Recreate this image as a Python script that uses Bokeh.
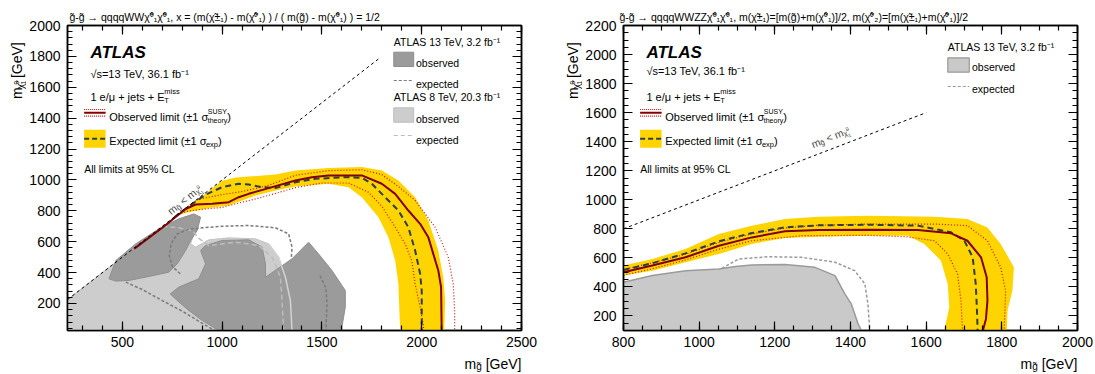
import math
import unicodedata
from bokeh.plotting import figure
from bokeh.models import Range1d, LinearAxis, SingleIntervalTicker, Label, CustomJSTickFormatter
from bokeh.layouts import row, column
from bokeh.embed import file_html
from bokeh.resources import INLINE

FONT = "Liberation Sans"

# ---------------- LEFT PANEL DATA (x = 1/2 grid) ----------------
L_TITLE = "g̃-g̃ → qqqqWWχ̃⁰₁χ̃⁰₁, x = (m(χ̃±₁) - m(χ̃⁰₁) ) / ( m(g̃) - m(χ̃⁰₁) ) = 1/2"
L_XR = (225, 2500)
L_YR = (25, 2000)
l_diag_x = [225, 1790]
l_diag_y = [225, 1790]

l_8tev_obs_x = [225, 225, 690, 750, 833, 858, 842, 867, 933, 1033, 1167, 1233, 1283, 1317, 1342, 1350]
l_8tev_obs_y = [25, 225, 690, 683, 677, 651, 586, 565, 612, 625, 619, 586, 500, 370, 219, 25]
l_8tev_edge_x = [1233, 1283, 1317, 1342, 1350]
l_8tev_edge_y = [586, 500, 370, 219, 25]
l_8tev_exp_x = [700, 780, 850, 885, 933, 1067, 1183, 1250, 1292, 1300, 1308]
l_8tev_exp_y = [700, 690, 672, 620, 575, 597, 575, 500, 370, 219, 25]

l_13a_x = [433, 467, 567, 683, 783, 858, 892, 875, 842, 817, 775, 733, 633, 533, 467]
l_13a_y = [360, 478, 586, 683, 748, 780, 759, 673, 608, 543, 457, 403, 375, 349, 345]
l_13b_x = [983, 900, 833, 775, 740, 783, 883, 917, 892, 917, 1000, 1133, 1200, 1217, 1217,
           1350, 1433, 1483, 1550, 1617, 1617, 1600, 1600]
l_13b_y = [25, 90, 155, 219, 262, 306, 360, 457, 543, 575, 608, 612, 565, 457, 370,
           489, 597, 521, 414, 284, 176, 47, 25]
l_13exp_a_x = [517, 600, 700, 800, 933, 965]
l_13exp_a_y = [338, 290, 219, 150, 46, 25]
l_13exp_b_x = [790, 750, 735, 745, 775, 830, 900, 1000, 1133, 1267, 1333, 1350, 1347]
l_13exp_b_y = [392, 440, 510, 590, 650, 680, 690, 700, 705, 690, 651, 565, 500]
l_13exp_c_x = [1490, 1520, 1525, 1520]
l_13exp_c_y = [380, 300, 200, 25]

l_band_up_x = [770, 900, 1000, 1067, 1133, 1267, 1367, 1533, 1700, 1800, 1883, 1967, 2033, 2083, 2108, 2117, 2113]
l_band_up_y = [770, 895, 995, 1015, 1022, 1035, 1061, 1078, 1083, 1061, 996, 888, 737, 543, 370, 219, 25]
l_band_lo_x = [1892, 1883, 1867, 1833, 1783, 1700, 1633, 1533, 1367, 1267, 1167, 1100, 1033, 933, 833]
l_band_lo_y = [25, 327, 478, 629, 759, 888, 953, 975, 957, 932, 899, 867, 834, 819, 791]

l_exp_x = [760, 833, 917, 1000, 1083, 1133, 1200, 1267, 1367, 1467, 1617, 1700, 1750, 1817, 1883, 1933, 1967, 1992, 2000, 2000]
l_exp_y = [758, 830, 905, 953, 975, 970, 953, 947, 985, 1007, 1018, 1014, 975, 888, 802, 694, 543, 392, 284, 25]
l_obs_x = [560, 700, 817, 867, 950, 1033, 1083, 1133, 1233, 1367, 1450, 1533, 1700, 1800, 1867, 1933, 1992, 2033, 2058, 2083, 2097, 2100]
l_obs_y = [555, 690, 812, 841, 845, 856, 888, 910, 947, 996, 1018, 1029, 1029, 975, 910, 802, 716, 629, 521, 414, 306, 25]
l_obs_up_x = [790, 880, 1000, 1100, 1233, 1367, 1533, 1700, 1800, 1880, 1967, 2067, 2133, 2158, 2165, 2165]
l_obs_up_y = [790, 875, 905, 925, 965, 1030, 1060, 1066, 1035, 960, 867, 694, 500, 327, 150, 25]
l_obs_lo_x = [780, 833, 917, 1000, 1067, 1133, 1233, 1367, 1500, 1633, 1733, 1800, 1867, 1917, 1950, 1967, 1992, 2008, 2010]
l_obs_lo_y = [780, 800, 812, 822, 845, 866, 900, 950, 980, 980, 920, 830, 694, 586, 478, 327, 176, 60, 25]

# ---------------- RIGHT PANEL DATA (WWZZ grid) ----------------
R_TITLE = "g̃-g̃ → qqqqWWZZχ̃⁰₁χ̃⁰₁, m(χ̃±₁)=[m(g̃)+m(χ̃⁰₁)]/2, m(χ̃⁰₂)=[m(χ̃±₁)+m(χ̃⁰₁)]/2"
R_XR = (800, 2000)
R_YR = (100, 2200)
r_diag_x = [800, 1600]
r_diag_y = [800, 1600]

r_32_obs_x = [800, 876, 964, 1052, 1095, 1139, 1227, 1306, 1359, 1385, 1402, 1420, 1429, 800]
r_32_obs_y = [432, 478, 512, 524, 540, 551, 554, 535, 478, 352, 283, 146, 100, 100]
r_32_exp_x = [1060, 1104, 1183, 1271, 1359, 1411, 1438, 1446, 1451]
r_32_exp_y = [528, 592, 608, 604, 570, 512, 421, 283, 100]

r_band_up_x = [800, 876, 964, 1052, 1139, 1227, 1315, 1446, 1622, 1709, 1762, 1797, 1832, 1828, 1815, 1813]
r_band_up_y = [547, 592, 661, 764, 821, 867, 883, 890, 883, 867, 810, 696, 535, 375, 237, 100]
r_band_lo_x = [1648, 1661, 1657, 1639, 1595, 1552, 1446, 1315, 1227, 1139, 1052, 964, 876, 800]
r_band_lo_y = [100, 260, 421, 581, 696, 753, 753, 746, 737, 696, 627, 570, 512, 478]

r_exp_x = [800, 876, 964, 1052, 1139, 1227, 1315, 1446, 1578, 1666, 1701, 1723, 1731, 1734, 1736]
r_exp_y = [517, 563, 631, 714, 771, 810, 824, 828, 822, 776, 718, 604, 421, 260, 100]
r_obs_x = [800, 876, 964, 1052, 1139, 1227, 1315, 1446, 1578, 1666, 1709, 1745, 1760, 1762, 1758, 1750]
r_obs_y = [501, 547, 604, 684, 741, 783, 792, 794, 792, 769, 718, 604, 466, 306, 180, 100]
r_obs_up_x = [800, 876, 964, 1052, 1139, 1227, 1315, 1446, 1622, 1709, 1762, 1797, 1810, 1808, 1806]
r_obs_up_y = [520, 566, 625, 706, 765, 805, 825, 833, 833, 822, 718, 535, 375, 230, 100]
r_obs_lo_x = [800, 876, 964, 1052, 1139, 1271, 1446, 1550, 1622, 1657, 1683, 1692, 1696]
r_obs_lo_y = [480, 525, 586, 660, 718, 753, 755, 745, 718, 627, 489, 306, 100]

# ---------------- styling helpers ----------------
YELLOW = "#FFD400"
OBS_RED = "#800000"
DOT_RED = "#D01010"
EXP_COL = "#2C3E50"

CW = {' ': .278, '0': .556, '1': .556, '2': .556, '3': .556, '4': .556, '5': .556, '6': .556, '7': .556,
      '8': .556, '9': .556, 'a': .556, 'b': .556, 'c': .5, 'd': .556, 'e': .556, 'f': .278, 'g': .556,
      'h': .556, 'i': .222, 'j': .222, 'k': .5, 'l': .222, 'm': .833, 'n': .556, 'o': .556, 'p': .556,
      'q': .556, 'r': .333, 's': .5, 't': .278, 'u': .556, 'v': .5, 'w': .722, 'x': .5, 'y': .5,
      'z': .5, 'A': .667, 'C': .722, 'E': .667, 'G': .778, 'L': .556, 'O': .778, 'S': .667, 'T': .611,
      'U': .722, 'V': .667, 'W': .944, 'Y': .667, 'Z': .611, '(': .333, ')': .333, '[': .278,
      ']': .278, '/': .278, '+': .584, '-': .333, '=': .584, '<': .584, ',': .278, '.': .278,
      '%': .889, '±': .584, 'σ': .57, 'χ': .52, 'μ': .577, '→': .84, '√': .55}


def tw(s, size):
    return sum(CW.get(c, 0.556) for c in s if not unicodedata.combining(c)) * size


def seg_w(part):
    if isinstance(part, list):
        return max(tw(t, s) for t, s, sh in part)
    return tw(part[0], part[1])


def rich(p, x, y, parts, angle=0.0, color="black", align="left", style="normal"):
    total = sum(seg_w(pt) for pt in parts)
    adv = -total if align == "right" else 0.0
    ca, sa = math.cos(angle), math.sin(angle)
    for part in parts:
        group = part if isinstance(part, list) else [part]
        for t, s, sh in group:
            stripped = t.lstrip(" ")
            a = adv + tw(t[:len(t) - len(stripped)], s)
            lx = x + a * ca - sh * sa
            ly = y - a * sa - sh * ca
            p.add_layout(Label(x=lx, y=ly, x_range_name="px", y_range_name="px", text=stripped,
                               text_font=FONT, text_font_size=f"{s}px", text_color=color,
                               text_baseline="alphabetic", text_align="left", angle=angle,
                               text_font_style=style))
        adv += seg_w(part)


def style_axis(ax, ticker, labels):
    ax.ticker = ticker
    ax.major_tick_in = 9
    ax.major_tick_out = 0
    ax.minor_tick_in = 5
    ax.minor_tick_out = 0
    ax.axis_line_color = "black"
    ax.axis_line_width = 1.5
    ax.major_tick_line_color = "black"
    ax.minor_tick_line_color = "black"
    ax.major_tick_line_width = 1.2
    ax.minor_tick_line_width = 1.2
    ax.major_label_text_font = FONT
    ax.major_label_text_color = "black"
    if labels:
        ax.major_label_text_font_size = "14px"
    else:
        ax.formatter = CustomJSTickFormatter(code="return ''")
        ax.major_label_text_font_size = "0px"
        ax.major_label_standoff = 0


MAIN_H = 353


def make_fig(xr, yr, width, bl, br, xint, xminor, yint, yminor, title, t_off):
    p = figure(width=width, height=MAIN_H, x_range=Range1d(*xr), y_range=Range1d(*yr),
               output_backend="svg", toolbar_location=None, title=title,
               min_border_left=bl, min_border_right=br, min_border_top=25, min_border_bottom=23)
    p.title.text_font = FONT
    p.title.text_font_size = "10.5px"
    p.title.text_font_style = "normal"
    p.title.text_color = "black"
    p.title.align = "left"
    p.title.offset = t_off
    p.title.standoff = 6
    p.extra_x_ranges = {"px": Range1d(0, 456)}
    p.extra_y_ranges = {"px": Range1d(305, 0)}
    p.xgrid.visible = False
    p.ygrid.visible = False
    p.outline_line_color = "black"
    p.outline_line_width = 1.5
    p.background_fill_color = "white"
    p.border_fill_color = "white"
    style_axis(p.xaxis[0], SingleIntervalTicker(interval=xint, num_minor_ticks=xminor), True)
    style_axis(p.yaxis[0], SingleIntervalTicker(interval=yint, num_minor_ticks=yminor), True)
    p.xaxis[0].major_label_standoff = 6
    p.yaxis[0].major_label_standoff = 7
    top = LinearAxis()
    style_axis(top, SingleIntervalTicker(interval=xint, num_minor_ticks=xminor), False)
    right = LinearAxis()
    style_axis(right, SingleIntervalTicker(interval=yint, num_minor_ticks=yminor), False)
    p.add_layout(top, "above")
    p.add_layout(right, "right")
    return p


def strip(width, height):
    s = figure(width=width, height=height, x_range=Range1d(0, width), y_range=Range1d(height, 0),
               output_backend="svg", toolbar_location=None, min_border=0,
               x_axis_location=None, y_axis_location=None)
    s.extra_x_ranges = {"px": Range1d(0, width)}
    s.extra_y_ranges = {"px": Range1d(height, 0)}
    s.xgrid.visible = False
    s.ygrid.visible = False
    s.outline_line_color = None
    s.background_fill_color = "white"
    s.border_fill_color = "white"
    return s


def common_text(p, sq_y):
    rich(p, 23, 26.5, [("ATLAS", 17, 0)], style="bold italic")
    rich(p, 23, sq_y, [("√s=13 TeV, 36.1 fb⁻¹", 11, 0)])
    rich(p, 23, 71.5, [("1 e/μ + jets + E", 11, 0), [("miss", 7.5, 6), ("T", 7.5, -3.5)]])
    p.line([16.7, 38.3], [87.3, 87.3], x_range_name="px", y_range_name="px", line_color=OBS_RED, line_width=2)
    p.line([16.7, 38.3], [84.0, 84.0], x_range_name="px", y_range_name="px", line_color=DOT_RED,
           line_width=1.2, line_dash="1 1")
    p.line([16.7, 38.3], [90.6, 90.6], x_range_name="px", y_range_name="px", line_color=DOT_RED,
           line_width=1.2, line_dash="1 1")
    rich(p, 42, 91, [("Observed limit (±1 σ", 11, 0), [("SUSY", 7, 5.5), ("theory", 7, -3.5)], (")", 11, 0)])
    p.quad(left=[16.7], right=[38.3], top=[104.3], bottom=[122.3], x_range_name="px", y_range_name="px",
           fill_color=YELLOW, line_color=None)
    p.line([16.7, 38.3], [113.3, 113.3], x_range_name="px", y_range_name="px", line_color=EXP_COL,
           line_width=2, line_dash="5 3")
    rich(p, 42, 115.7, [("Expected limit (±1 σ", 11, 0), ("exp", 7.5, -3), (")", 11, 0)])
    rich(p, 16.7, 143.3, [("All limits at 95% CL", 10.5, 0)])


def ylabel(s, x_base, y_top):
    rich(s, x_base, y_top, [("m", 14, 0)] + [("χ̃", 10, -3.5), [("0", 6.5, 0.5), ("1", 6.5, -6.5)]]
         + [(" [GeV]", 14, 0)], angle=math.pi / 2, align="right")


def diag_text(p, x, y, ang):
    rich(p, x, y, [("m", 10.5, 0), ("g̃", 7.5, -2.5), (" < m", 10.5, 0), ("χ̃", 7.5, -2.5),
                   [("0", 5, 1.5), ("1", 5, -5.5)]], angle=ang, color="#444444")


# ================= LEFT FIGURE =================
p1 = make_fig(L_XR, L_YR, 522, 39, 27, 500, 5, 200, 5, L_TITLE, 2)
p1.patch(l_8tev_obs_x, l_8tev_obs_y, fill_color="#CDCDCD", line_color="#C4C4C4", line_width=1)
p1.patch(l_13a_x, l_13a_y, fill_color="#9B9B9B", line_color="#8E8E8E", line_width=1)
p1.patch(l_13b_x, l_13b_y, fill_color="#9B9B9B", line_color="#8E8E8E", line_width=1)
p1.line(l_8tev_edge_x, l_8tev_edge_y, line_color="#D2D2D2", line_width=1.5)
p1.line(l_8tev_exp_x, l_8tev_exp_y, line_color="#BDBDBD", line_width=1.5, line_dash="5 3")
for xs, ys in [(l_13exp_a_x, l_13exp_a_y), (l_13exp_b_x, l_13exp_b_y), (l_13exp_c_x, l_13exp_c_y)]:
    p1.line(xs, ys, line_color="#7A7A7A", line_width=1.5, line_dash="3 2")
p1.patch(l_band_up_x + l_band_lo_x, l_band_up_y + l_band_lo_y, fill_color=YELLOW, line_color=None)
p1.line(l_obs_up_x, l_obs_up_y, line_color=DOT_RED, line_width=1.2, line_dash="1 2")
p1.line(l_obs_lo_x, l_obs_lo_y, line_color=DOT_RED, line_width=1.2, line_dash="1 2")
p1.line(l_exp_x, l_exp_y, line_color=EXP_COL, line_width=2, line_dash="6 4")
p1.line(l_obs_x, l_obs_y, line_color=OBS_RED, line_width=2)
p1.line(l_diag_x, l_diag_y, line_color="black", line_width=1, line_dash="3 3")

common_text(p1, 48)
diag_text(p1, 101.7, 186.7, math.radians(39))

rich(p1, 327.7, 16.7, [("ATLAS 13 TeV, 3.2 fb⁻¹", 10.5, 0)])
p1.quad(left=[327.7], right=[347.7], top=[26.7], bottom=[41], x_range_name="px", y_range_name="px",
        fill_color="#9B9B9B", line_color="#8E8E8E")
rich(p1, 350, 37.7, [("observed", 10.5, 0)])
p1.line([327.7, 347.7], [55, 55], x_range_name="px", y_range_name="px", line_color="#7A7A7A",
        line_width=1.2, line_dash="3 2")
rich(p1, 350, 58.3, [("expected", 10.5, 0)])
rich(p1, 327.7, 71.7, [("ATLAS 8 TeV, 20.3 fb⁻¹", 10.5, 0)])
p1.quad(left=[327.7], right=[347.7], top=[82.3], bottom=[96.7], x_range_name="px", y_range_name="px",
        fill_color="#CDCDCD", line_color="#BDBDBD")
rich(p1, 350, 93.3, [("observed", 10.5, 0)])
p1.line([327.7, 347.7], [110, 110], x_range_name="px", y_range_name="px", line_color="#BDBDBD",
        line_width=1.2, line_dash="4 3")
rich(p1, 350, 114, [("expected", 10.5, 0)])

# ================= RIGHT FIGURE =================
p2 = make_fig(R_XR, R_YR, 512, 39, 17, 200, 4, 200, 4, R_TITLE, -4)
p2.patch(r_32_obs_x, r_32_obs_y, fill_color="#C9C9C9", line_color="#9A9A9A", line_width=1.5)
p2.line(r_32_exp_x, r_32_exp_y, line_color="#9A9A9A", line_width=1.5, line_dash="3 2")
p2.patch(r_band_up_x + r_band_lo_x, r_band_up_y + r_band_lo_y, fill_color=YELLOW, line_color=None)
p2.line(r_obs_up_x, r_obs_up_y, line_color=DOT_RED, line_width=1.2, line_dash="1 2")
p2.line(r_obs_lo_x, r_obs_lo_y, line_color=DOT_RED, line_width=1.2, line_dash="1 2")
p2.line(r_exp_x, r_exp_y, line_color=EXP_COL, line_width=2, line_dash="6 4")
p2.line(r_obs_x, r_obs_y, line_color=OBS_RED, line_width=2)
p2.line(r_diag_x, r_diag_y, line_color="black", line_width=1, line_dash="3 3")

common_text(p2, 45)
diag_text(p2, 189, 119, math.radians(22))

rich(p2, 325.7, 21.7, [("ATLAS 13 TeV, 3.2 fb⁻¹", 10.5, 0)])
p2.quad(left=[325.7], right=[347.3], top=[32.3], bottom=[46.7], x_range_name="px", y_range_name="px",
        fill_color="#C9C9C9", line_color="#9A9A9A", line_width=1.2)
rich(p2, 350, 41.7, [("observed", 10.5, 0)])
p2.line([325.7, 347.3], [61, 61], x_range_name="px", y_range_name="px", line_color="#9A9A9A",
        line_width=1.2, line_dash="3 2")
rich(p2, 350, 63.3, [("expected", 10.5, 0)])

# ================= TEXT STRIPS (axis labels) =================
TOTAL_W = 26 + 522 + 34 + 512
yl1 = strip(26, MAIN_H)
ylabel(yl1, 16, 25)
yl2 = strip(34, MAIN_H)
ylabel(yl2, 24, 25)

bottom = strip(TOTAL_W, 21)
rich(bottom, 521, 10, [("m", 14, 0), ("g̃", 10, -3), (" [GeV]", 14, 0)], align="right")
rich(bottom, 1077, 10, [("m", 14, 0), ("g̃", 10, -3), (" [GeV]", 14, 0)], align="right")

layout = column(row(yl1, p1, yl2, p2), bottom)
open("out.html", "w").write(file_html(layout, INLINE))
